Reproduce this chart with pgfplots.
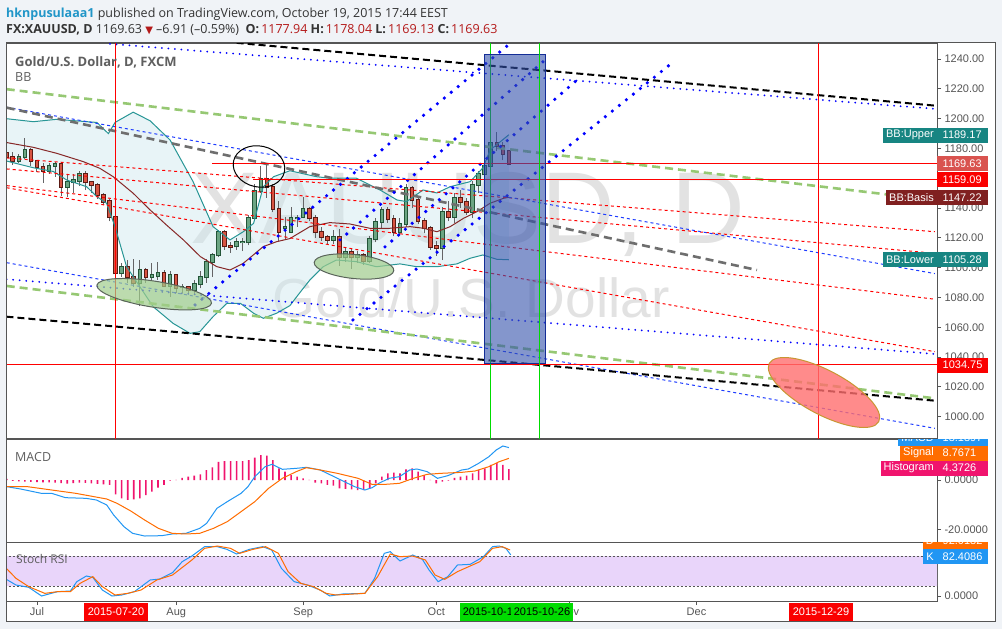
\documentclass[border=0pt]{standalone}
\usepackage{pgfplots}
\pgfplotsset{compat=1.18}
\usepackage{pgfplotstable}
\usepackage{fontspec}
\setmainfont{Liberation Sans}
\newfontfamily\os{Open Sans}
\newfontfamily\dv{DejaVu Sans}
\newcommand\lab{\fontsize{11}{13}\selectfont}
\definecolor{bgc}{RGB}{240,243,247}
\definecolor{framec}{RGB}{85,85,85}
\definecolor{axtext}{RGB}{85,85,85}
\definecolor{upf}{RGB}{107,165,131}
\definecolor{upe}{RGB}{34,84,55}
\definecolor{dnf}{RGB}{215,84,66}
\definecolor{dne}{RGB}{91,26,19}
\definecolor{wickc}{RGB}{100,100,102}
\definecolor{bbteal}{RGB}{40,150,150}
\definecolor{bbbasis}{RGB}{135,40,40}
\definecolor{bbfill}{RGB}{205,232,238}
\definecolor{gline}{RGB}{150,200,115}
\definecolor{grayline}{RGB}{110,110,110}
\definecolor{bline}{RGB}{0,0,255}
\definecolor{thinblue}{RGB}{30,60,255}
\definecolor{rectf}{RGB}{50,80,170}
\definecolor{recte}{RGB}{20,45,150}
\definecolor{vgreen}{RGB}{0,220,0}
\definecolor{ellg}{RGB}{160,205,140}
\definecolor{elle}{RGB}{90,100,90}
\definecolor{ellr}{RGB}{255,110,110}
\definecolor{ellre}{RGB}{200,150,50}
\definecolor{macdb}{RGB}{33,150,243}
\definecolor{sigo}{RGB}{255,109,0}
\definecolor{histp}{RGB}{240,20,110}
\definecolor{lav}{RGB}{233,213,250}
\definecolor{tealbox}{RGB}{23,133,130}
\definecolor{basisbox}{RGB}{128,32,32}
\definecolor{lredbox}{RGB}{217,83,79}
\definecolor{redbox}{RGB}{250,0,0}
\definecolor{userblue}{RGB}{33,150,200}
\definecolor{hdr}{RGB}{51,51,51}
\definecolor{vred}{RGB}{180,25,25}
\definecolor{wm}{RGB}{226,226,226}
\definecolor{titlec}{RGB}{95,95,95}

% candles: index (trading days from 2015-07-01), open, high, low, close
\pgfplotstableread{
i O H L C
-3 1171.8 1176.0 1170.0 1174.0
-2 1174.0 1186.8 1173.0 1178.9
2 1165.1 1170.0 1163.0 1168.2
3 1168.2 1171.0 1161.0 1169.8
5 1154.3 1163.0 1147.6 1157.2
6 1157.2 1163.0 1150.0 1158.8
7 1158.4 1165.0 1155.0 1162.8
14 1096.2 1103.0 1094.0 1100.2
17 1089.9 1105.0 1074.0 1098.4
19 1093.5 1103.0 1091.0 1095.1
20 1094.2 1104.0 1092.0 1096.2
22 1087.9 1098.0 1080.5 1094.9
24 1086.8 1089.0 1083.0 1086.9
26 1084.8 1092.0 1082.0 1088.8
27 1088.8 1098.0 1086.0 1093.5
28 1093.5 1106.0 1090.0 1103.6
29 1103.6 1110.0 1094.0 1108.3
30 1108.3 1125.0 1107.0 1123.7
33 1114.3 1120.0 1112.0 1117.0
34 1117.0 1120.0 1111.0 1117.1
35 1117.0 1135.0 1115.0 1133.3
36 1133.3 1156.0 1131.0 1151.4
37 1151.4 1168.0 1150.0 1159.3
41 1126.5 1134.2 1118.5 1127.5
42 1124.1 1140.5 1123.0 1133.1
43 1133.1 1135.3 1127.5 1133.6
44 1133.8 1147.6 1133.0 1139.1
49 1118.6 1125.0 1116.0 1120.8
51 1106.9 1114.0 1104.0 1110.3
53 1106.9 1111.0 1103.0 1108.5
55 1104.5 1121.0 1103.0 1119.2
56 1119.2 1133.0 1117.0 1130.4
57 1130.4 1141.0 1126.0 1138.5
60 1123.7 1133.0 1121.0 1129.1
61 1129.1 1156.0 1127.0 1153.2
67 1112.9 1141.0 1105.0 1137.6
69 1134.2 1150.0 1130.0 1146.5
72 1137.6 1158.0 1133.0 1155.5
73 1155.5 1165.0 1150.0 1162.6
74 1162.6 1172.0 1160.0 1168.2
75 1168.2 1186.0 1166.0 1183.4
}\upc
\pgfplotstableread{
i O H L C
-5 1177.2 1178.5 1173.0 1174.0
-4 1174.0 1177.8 1168.9 1171.8
-1 1178.9 1180.0 1168.0 1171.6
0 1171.6 1172.5 1164.0 1167.3
1 1167.3 1170.0 1157.0 1165.1
4 1169.3 1171.0 1148.0 1154.3
8 1162.8 1165.0 1152.0 1157.2
9 1157.2 1158.0 1150.0 1155.5
10 1155.5 1157.0 1146.0 1148.8
11 1148.8 1150.0 1142.0 1144.3
12 1144.7 1146.0 1131.0 1133.8
13 1133.8 1135.0 1085.0 1096.2
15 1100.2 1105.0 1090.0 1093.5
16 1093.5 1106.0 1087.0 1089.9
18 1098.4 1100.0 1090.0 1093.5
21 1096.2 1098.4 1087.2 1087.9
23 1094.9 1096.0 1083.0 1086.1
25 1086.8 1088.0 1082.0 1084.8
31 1123.7 1125.0 1112.0 1114.3
32 1114.3 1117.0 1110.0 1114.1
38 1159.3 1170.0 1147.0 1153.9
39 1153.9 1156.0 1137.0 1139.6
40 1139.6 1145.0 1118.0 1124.1
45 1139.1 1141.0 1131.0 1133.1
46 1133.1 1135.0 1120.0 1124.1
47 1124.1 1127.0 1118.0 1120.8
48 1120.8 1122.0 1116.0 1118.6
50 1120.8 1126.0 1101.0 1106.9
52 1110.3 1113.0 1099.0 1106.9
54 1108.5 1110.0 1102.0 1104.5
58 1138.5 1141.0 1130.0 1132.4
59 1132.4 1135.0 1121.0 1123.7
62 1153.2 1155.0 1140.0 1145.2
63 1145.2 1147.0 1129.0 1131.3
64 1131.3 1133.0 1123.0 1126.4
65 1126.4 1128.0 1112.0 1114.1
66 1114.5 1118.0 1108.0 1112.9
68 1137.6 1145.0 1131.0 1134.2
70 1146.5 1152.0 1140.0 1144.3
71 1144.3 1147.0 1135.0 1137.6
76 1183.4 1191.0 1178.0 1181.8
77 1181.8 1184.0 1172.0 1176.3
78 1177.94 1178.04 1169.13 1169.63
}\dnc
\pgfplotstableread{
i p
-5.0 1199.9
-0.6 1197.9
3.25 1199.5
9.9 1197.4
11.8 1189.9
12.9 1197.4
15.9 1204.3
18.7 1198.5
22.0 1185.6
25.8 1157.7
29.1 1127.5
31.9 1118.6
34.1 1124.1
35.8 1129.7
37.4 1154.3
39.1 1161.0
41.8 1165.0
46.2 1161.0
48.4 1160.0
52.8 1160.0
56.7 1152.1
59.5 1145.4
61.1 1144.3
63.8 1152.1
66.1 1150.1
68.3 1154.3
71.6 1157.7
73.7 1166.9
74.9 1178.9
78.0 1189.17
}\bbup
\pgfplotstableread{
i p
-5.0 1171.5
-0.6 1167.0
2.7 1164.5
4.9 1158.8
8.2 1154.3
9.9 1147.6
11.5 1143.2
12.9 1127.5
14.8 1100.7
17.0 1087.2
19.2 1073.8
22.5 1062.6
25.3 1055.9
26.9 1057.0
29.1 1067.1
31.4 1076.1
33.6 1076.1
35.8 1069.4
37.4 1066.0
39.6 1069.4
41.8 1074.5
43.5 1083.5
45.1 1091.7
47.3 1100.6
49.5 1105.1
52.8 1104.0
56.1 1100.6
60.0 1102.5
62.8 1100.6
66.1 1100.6
69.4 1102.5
71.6 1106.3
73.7 1108.5
76.0 1105.6
78.0 1105.28
}\bblo
% band area: upper band forward, lower band backward
\pgfplotstableread{
i p
-5.0 1199.9
-0.6 1197.9
3.25 1199.5
9.9 1197.4
11.8 1189.9
12.9 1197.4
15.9 1204.3
18.7 1198.5
22.0 1185.6
25.8 1157.7
29.1 1127.5
31.9 1118.6
34.1 1124.1
35.8 1129.7
37.4 1154.3
39.1 1161.0
41.8 1165.0
46.2 1161.0
48.4 1160.0
52.8 1160.0
56.7 1152.1
59.5 1145.4
61.1 1144.3
63.8 1152.1
66.1 1150.1
68.3 1154.3
71.6 1157.7
73.7 1166.9
74.9 1178.9
78.0 1189.17
78.0 1105.28
76.0 1105.6
73.7 1108.5
71.6 1106.3
69.4 1102.5
66.1 1100.6
62.8 1100.6
60.0 1102.5
56.1 1100.6
52.8 1104.0
49.5 1105.1
47.3 1100.6
45.1 1091.7
43.5 1083.5
41.8 1074.5
39.6 1069.4
37.4 1066.0
35.8 1069.4
33.6 1076.1
31.4 1076.1
29.1 1067.1
26.9 1057.0
25.3 1055.9
22.5 1062.6
19.2 1073.8
17.0 1087.2
14.8 1100.7
12.9 1127.5
11.5 1143.2
9.9 1147.6
8.2 1154.3
4.9 1158.8
2.7 1164.5
-0.6 1167.0
-5.0 1171.5
}\bbarea
\pgfplotstableread{
i p
-5.0 1183.9
-0.6 1180.7
3.25 1176.7
7.66 1171.1
10.4 1166.6
12.6 1161.0
15.9 1149.9
18.7 1138.7
21.4 1128.6
24.2 1118.6
27.0 1107.4
29.7 1100.7
31.9 1098.4
34.1 1102.9
37.4 1114.1
39.6 1117.4
41.8 1119.5
45.1 1127.5
48.4 1130.2
51.7 1129.3
55.0 1126.4
58.3 1126.4
61.7 1127.5
63.9 1126.4
66.1 1124.1
68.3 1127.5
70.5 1133.1
72.7 1137.5
74.9 1143.2
77.1 1146.5
78.0 1147.22
}\bbmid
\pgfplotstableread{
i v
-4.98 -2.70
-2.70 -3.65
0.71 -5.40
2.42 -5.40
4.70 -7.16
8.11 -7.43
9.82 -8.10
11.53 -10.13
12.67 -14.18
14.37 -18.91
15.8 -21.61
17.79 -22.70
20.64 -22.56
22.34 -21.88
24.62 -21.61
26.9 -19.59
28.04 -17.56
29.74 -11.48
31.45 -8.78
33.73 -5.40
34.87 -2.70
36.0 1.35
37.71 5.41
38.85 6.35
40.56 4.33
42.84 4.73
44.54 5.14
46.82 4.06
48.53 2.03
50.8 -0.67
52.5 -2.70
54.2 -4.05
55.4 -3.11
56.5 -1.35
58.2 0.68
59.9 1.35
61.6 4.06
62.8 4.46
64.5 3.38
66.2 0.68
67.9 1.76
70.2 4.06
71.3 4.46
73.0 6.76
74.7 9.46
75.9 12.16
77.0 13.78
78.0 13.14
}\macd
\pgfplotstableread{
i v
-4.98 -2.70
-1.56 -2.70
2.42 -4.05
6.41 -5.40
11.53 -7.70
13.24 -9.46
15.5 -12.56
17.79 -16.21
20.07 -19.59
22.34 -21.61
24.62 -21.88
26.9 -21.61
29.17 -19.59
31.45 -16.89
33.73 -12.83
36.0 -8.78
38.28 -3.38
40.56 0.68
42.84 3.38
44.54 5.00
46.82 4.06
49.66 2.70
53.08 0.68
55.36 -1.75
57.6 -1.75
59.9 -1.35
62.2 0.68
64.5 2.30
66.7 2.70
70.2 3.11
72.4 3.65
74.7 5.41
76.4 7.43
78.0 8.77
}\signal
\pgfplotstableread{
i v
-5 0.5
-4 -0.4
-3 -0.6
-2 -0.7
-1 -0.8
0 -0.9
1 -1.0
2 -1.0
3 -1.1
4 -1.3
5 -1.5
6 -1.3
7 -1.1
8 -1.2
9 -1.4
10 -1.6
11 -1.8
12 -2.0
13 -5.8
14 -7.4
15 -8.1
16 -7.8
17 -7.4
18 -6.1
19 -4.7
20 -3.1
21 -2.0
22 -0.3
23 0.1
24 0.9
25 1.35
26 1.75
27 2.3
28 4.05
29 5.1
30 7.4
31 7.7
32 7.7
33 7.7
34 7.7
35 8.1
36 9.1
37 10.1
38 9.9
39 8.1
40 4.7
41 3.4
42 2.0
43 1.35
44 0.7
45 0.1
46 -1.1
47 -1.35
48 -2.0
49 -2.3
50 -3.4
51 -3.6
52 -3.8
53 -4.05
54 -4.05
55 -3.4
56 -1.35
57 1.35
58 2.7
59 3.0
60 2.7
61 4.3
62 4.7
63 3.4
64 2.0
65 0.1
66 -1.35
67 -0.7
68 -0.3
69 0.9
70 1.35
71 1.75
72 2.7
73 4.05
74 4.7
75 6.1
76 6.8
77 6.1
78 4.37
}\hist
\pgfplotstableread{
i v
-5.06 33.3
-3.47 22
-1.36 17.3
0.76 0
2.35 5.3
3.4 8.7
5.52 10
6.58 28.7
8.16 40
9.22 37.3
10.8 12
12.4 0
14.0 2
16.1 8.7
18.7 32
20.3 34
22.4 46.7
24.0 68.7
25.6 80
27.7 98.7
29.8 98.7
31.4 93.3
33.0 84
35.1 93.3
37.3 98.7
38.8 92
40.4 55.3
42.5 28.7
44.7 22
46.8 12
48.4 0
50.5 4
54.2 5.3
55.8 35.3
57.4 85.3
58.4 88.7
60.0 70
62.1 82
63.7 73.3
64.8 52
66.3 28.7
67.9 38.7
69.5 62
71.6 63.3
73.8 78.7
75.3 98.7
76.4 100
77.5 95.3
78.3 82.4
}\stk
\pgfplotstableread{
i v
-5.06 55.3
-3.47 35.3
-1.36 18.7
1.29 5.3
3.4 8.7
5.52 8.7
7.11 25.3
9.22 38.7
10.8 18.7
12.9 2
15.0 5.3
17.2 12
19.8 32
22.4 42
25.6 72
27.7 95.3
29.8 100
32.0 95.3
33.5 85.3
35.7 93.3
37.8 98.7
39.9 85.3
41.5 48.7
43.6 25.3
45.7 18.7
47.8 5.3
49.4 2
54.2 5.3
56.3 38.7
58.4 84
60.0 78.7
62.1 80
64.2 72
65.8 42
67.4 33.3
69.5 48.7
71.6 60
73.2 68.7
75.3 95.3
76.9 98.7
78.2 92
}\std

\pgfplotsset{
 pane/.style={scale only axis, width=930.5pt, xmin=-5.04, xmax=148.76,
   axis line style={draw=framec, line width=0.9pt}, tick align=outside,
   major tick length=4pt, tick style={draw=framec, line width=0.8pt},
   xtick=\empty, ytick pos=right, yticklabel pos=right,
   /pgf/number format/assume math mode=true,
   yticklabel style={font=\lab, text=axtext, /pgf/number format/.cd, fixed, fixed zerofill, 1000 sep={}, assume math mode=true}},
 wk/.style={draw=none, mark=none, forget plot, error bars/.cd, y dir=plus, y explicit, error mark=none, error bar style={line width=1pt, draw=wickc}},
 bo/.style={draw=none, mark=none, forget plot, error bars/.cd, y dir=plus, y explicit, error mark=none, error bar style={line width=4.6pt, draw=#1}},
 bf/.style={draw=none, mark=none, forget plot, error bars/.cd, y dir=plus, y explicit, error mark=none, error bar style={line width=2.6pt, draw=#1}},
 blackdash/.style={black, line width=2pt, dash pattern=on 7pt off 4pt},
 greendash/.style={color=gline, line width=2.6pt, dash pattern=on 8pt off 5pt},
 graydash/.style={color=grayline, line width=2.6pt, dash pattern=on 8pt off 5pt},
 bluedot/.style={color=bline, line width=2pt, dash pattern=on 0pt off 6.5pt, line cap=round},
 bigdot/.style={color=bline, line width=3.6pt, dash pattern=on 0pt off 9pt, line cap=round},
 bluethin/.style={color=thinblue, line width=1pt, dash pattern=on 3pt off 3pt},
 reddash/.style={color=red, line width=1pt, dash pattern=on 3pt off 3pt},
}
\tikzset{
 valbox/.style={fill=#1, text=white, anchor=west, font=\lab, inner xsep=5.5pt, inner ysep=0pt, minimum height=15pt, text width=40pt, align=left},
 namebox/.style={fill=#1, text=white, anchor=east, font=\lab, inner xsep=3pt, inner ysep=0pt, minimum height=15pt},
 datel/.style={anchor=base, inner sep=0, font=\lab, text=axtext},
}

\begin{document}
\begin{tikzpicture}[x=1pt,y=1pt]
\useasboundingbox (0,0) rectangle (1002,-629);
\fill[bgc] (0,0) rectangle (1002,-629);
\fill[white] (6.5,-42.5) rectangle (995.5,-621);
% watermark
\node[anchor=base, inner sep=0, font=\fontsize{102}{102}\selectfont, text=wm] at (468,-243) {XAUUSD, D};
\node[anchor=base, inner sep=0, font=\fontsize{55}{55}\selectfont, text=wm] at (471,-317) {Gold/U.S. Dollar};

% ---------------- price pane
\begin{axis}[pane, at={(6.5pt,-438pt)}, anchor=south west, height=395pt,
  ymin=985.7, ymax=1250.7, ytick={1000,1020,...,1240},
  yticklabel style={/pgf/number format/precision=2}]
\addplot[fill=bbfill, fill opacity=0.45, draw=none, forget plot] table[x=i,y=p]{\bbarea} -- cycle;
% candles
\addplot[wk] table[x=i, y=L, y error expr=\thisrow{H}-\thisrow{L}]{\upc};
\addplot[wk] table[x=i, y=L, y error expr=\thisrow{H}-\thisrow{L}]{\dnc};
\addplot[bo=upe] table[x=i, y expr={\thisrow{O}-0.67}, y error expr={\thisrow{C}-\thisrow{O}+1.34}]{\upc};
\addplot[bf=upf] table[x=i, y=O, y error expr={\thisrow{C}-\thisrow{O}}]{\upc};
\addplot[bo=dne] table[x=i, y expr={\thisrow{C}-0.67}, y error expr={\thisrow{O}-\thisrow{C}+1.34}]{\dnc};
\addplot[bf=dnf] table[x=i, y=C, y error expr={\thisrow{O}-\thisrow{C}}]{\dnc};
% Bollinger lines
\addplot[bbteal, line width=1pt] table[x=i,y=p]{\bbup};
\addplot[bbteal, line width=1pt] table[x=i,y=p]{\bblo};
\addplot[bbbasis, line width=1pt] table[x=i,y=p]{\bbmid};
% drawings
\addplot[reddash] coordinates {(-5.0,1173.6) (148.4,1124.1)};
\addplot[reddash] coordinates {(-5.0,1166.2) (148.4,1109.6)};
\addplot[reddash] coordinates {(-5.0,1155.0) (148.4,1078.8)};
\addplot[reddash] coordinates {(-5.0,1153.6) (148.4,1043.6)};
\addplot[bluethin] coordinates {(-5.0,1207.6) (148.4,1096.0)};
\addplot[bluethin] coordinates {(-5.0,1103.3) (148.4,992.2)};
\addplot[graydash] coordinates {(-5.0,1207.3) (119.0,1098.4)};
\addplot[greendash] coordinates {(-5.0,1219.7) (148.1,1145.4)};
\addplot[greendash] coordinates {(-5.0,1087.7) (148.4,1012.3)};
\addplot[bluedot] coordinates {(12.07,1250.1) (148.4,1206.5)};
\addplot[bluedot] coordinates {(-5.0,1092.2) (148.4,1042.1)};
\addplot[blackdash] coordinates {(33.0,1250.8) (148.4,1208.7)};
\addplot[blackdash] coordinates {(-5.04,1067.1) (148.76,1010.6)};
\addplot[bigdot] coordinates {(26.12,1074.95) (79.83,1255.9)};
\addplot[bigdot] coordinates {(50.08,1118.6) (83.97,1239.3)};
\addplot[bigdot] coordinates {(57.52,1113.9) (89.26,1225.9)};
\addplot[bigdot] coordinates {(52.23,1064.9) (104.96,1237.3)};
% horizontal levels
\addplot[red, line width=1pt] coordinates {(28.9,1169.63) (149,1169.63)};
\addplot[red, line width=1pt] coordinates {(35.7,1159.09) (149,1159.09)};
\addplot[red, line width=1pt] coordinates {(-6,1034.75) (149,1034.75)};
% vertical markers
\addplot[red, line width=1pt] coordinates {(13,980) (13,1260)};
\addplot[red, line width=1pt] coordinates {(129.2,980) (129.2,1260)};
\addplot[vgreen, line width=1pt] coordinates {(75,980) (75,1260)};
\addplot[fill=rectf, fill opacity=0.6, draw=recte, line width=1pt] coordinates {(73.9,1035.4) (84.0,1035.4) (84.0,1242.7) (73.9,1242.7)} -- cycle;
\addplot[vgreen, line width=1pt] coordinates {(83,980) (83,1260)};
\end{axis}

% ellipses (annotations), clipped to the price pane
\begin{scope}
\clip (6.5,-43) rectangle (937,-438);
\draw[fill=ellg, fill opacity=0.7, draw=elle, line width=1pt, rotate around={-9:(154.2,-294.2)}] (154.2,-294.2) ellipse [x radius=58, y radius=13];
\draw[fill=ellg, fill opacity=0.7, draw=elle, line width=1pt, rotate around={-6:(354,-266.5)}] (354,-266.5) ellipse [x radius=40, y radius=12];
\draw[black, line width=1pt, rotate around={-12:(259,-166.5)}] (259,-166.5) ellipse [x radius=26, y radius=20.5];
\draw[fill=ellr, fill opacity=0.8, draw=ellre, line width=1pt, rotate around={-28:(824,-392.5)}] (824,-392.5) ellipse [x radius=62, y radius=22];
\end{scope}

% ---------------- MACD pane
\begin{axis}[pane, at={(6.5pt,-542.3pt)}, anchor=south west, height=103.3pt,
  ymin=-25.25, ymax=16.62, ytick={-20,0},
  yticklabel style={/pgf/number format/precision=4}]
\addplot[ybar, bar width=1.6pt, fill=histp, draw=none] table[x=i,y=v]{\hist};
\addplot[macdb, line width=1pt] table[x=i,y=v]{\macd};
\addplot[sigo, line width=1pt] table[x=i,y=v]{\signal};
\end{axis}

% ---------------- Stoch RSI pane
\begin{axis}[pane, at={(6.5pt,-601pt)}, anchor=south west, height=58.7pt,
  ymin=-10, ymax=107.4, ytick={0},
  yticklabel style={/pgf/number format/precision=4},
  xtick={0,23,44,66,88,109}, xticklabels={}, xtick pos=left]
\addplot[draw=none, fill=lav] coordinates {(-6,20) (150,20) (150,80) (-6,80)} -- cycle;
\addplot[framec, line width=0.8pt, dash pattern=on 2pt off 2pt] coordinates {(-6,80) (150,80)};
\addplot[framec, line width=0.8pt, dash pattern=on 2pt off 2pt] coordinates {(-6,20) (150,20)};
\addplot[macdb, line width=1pt] table[x=i,y=v]{\stk};
\addplot[sigo, line width=1pt] table[x=i,y=v]{\std};
\end{axis}

% frame
\draw[framec, line width=1pt] (6.5,-42.5) rectangle (995.5,-621);

% month labels of the time axis
\node[datel] at (37,-615) {Jul};
\node[datel] at (176.2,-615) {Aug};
\node[datel] at (303.2,-615) {Sep};
\node[datel] at (436.3,-615) {Oct};
\node[datel] at (569.4,-615) {Nov};
\node[datel] at (696.5,-615) {Dec};

% header
\node[anchor=base west, inner sep=0, font=\os\fontsize{12.5}{14}\selectfont] at (6,-17)
 {\textcolor{userblue}{\bfseries hknpusulaaa1} \textcolor{hdr}{published on TradingView.com, October 19, 2015 17:44 EEST}};
\node[anchor=base west, inner sep=0, font=\os\fontsize{12.5}{14}\selectfont, text=hdr] at (6,-33.3)
 {{\bfseries FX:XAUUSD, D}\ 1169.63 {\dv\fontsize{10}{12}\selectfont\textcolor{vred}{▼}} –6.91 (–0.59\%)\ \ {\bfseries O:}\,\textcolor{vred}{1177.94} {\bfseries H:}\,\textcolor{vred}{1178.04} {\bfseries L:}\,\textcolor{vred}{1169.13} {\bfseries C:}\,\textcolor{vred}{1169.63}};
% pane titles
\node[anchor=base west, inner sep=0, font=\os\bfseries\fontsize{13}{15}\selectfont, text=titlec] at (15,-66) {Gold/U.S. Dollar, D, FXCM};
\node[anchor=base west, inner sep=0, font=\os\fontsize{12.5}{15}\selectfont, text=titlec] at (15,-81.7) {BB};
\node[anchor=base west, inner sep=0, font=\os\fontsize{12.5}{15}\selectfont, text=titlec] at (15,-461) {MACD};
\node[anchor=base west, inner sep=0, font=\os\fontsize{12}{15}\selectfont, text=titlec] at (16,-563.5) {Stoch RSI};

% price scale labels
\node[namebox=tealbox] at (937,-135) {BB:Upper};
\node[valbox=tealbox] at (937,-135) {1189.17};
\node[valbox=lredbox] at (937,-163.5) {1169.63};
\node[valbox=redbox] at (937,-179.5) {1159.09};
\node[namebox=basisbox] at (937,-197.3) {BB:Basis};
\node[valbox=basisbox] at (937,-197.3) {1147.22};
\node[namebox=tealbox] at (937,-259.8) {BB:Lower};
\node[valbox=tealbox] at (937,-259.8) {1105.28};
\node[valbox=redbox] at (937,-365) {1034.75};
% MACD labels
\begin{scope}
\clip (870,-439) rectangle (1000,-460);
\node[namebox=macdb] at (937,-438) {MACD};
\node[valbox=macdb] at (937,-438) {13.1397};
\end{scope}
\node[namebox=sigo] at (937,-453) {Signal};
\node[valbox=sigo] at (937,-453) {8.7671};
\node[namebox=histp] at (937,-468) {Histogram};
\node[valbox=histp] at (937,-468) {4.3726};
% Stoch labels
\begin{scope}
\clip (870,-542.3) rectangle (1000,-560);
\node[namebox=sigo] at (937,-541) {D};
\node[valbox=sigo] at (937,-541) {92.0132};
\end{scope}
\node[namebox=macdb] at (937,-556.5) {K};
\node[valbox=macdb] at (937,-556.5) {82.4086};
% date labels
\node[fill=redbox, text=white, minimum width=64pt, minimum height=18pt, inner sep=0, font=\lab] at (116,-612) {2015-07-20};
\node[fill=vgreen, text=black, minimum width=62pt, minimum height=18pt, inner sep=0, font=\lab] at (491,-612) {2015-10-14};
\node[fill=vgreen, text=black, minimum width=62pt, minimum height=18pt, inner sep=0, font=\lab] at (542,-612) {2015-10-26};
\node[fill=redbox, text=white, minimum width=64pt, minimum height=18pt, inner sep=0, font=\lab] at (821,-612) {2015-12-29};
\end{tikzpicture}
\end{document}
